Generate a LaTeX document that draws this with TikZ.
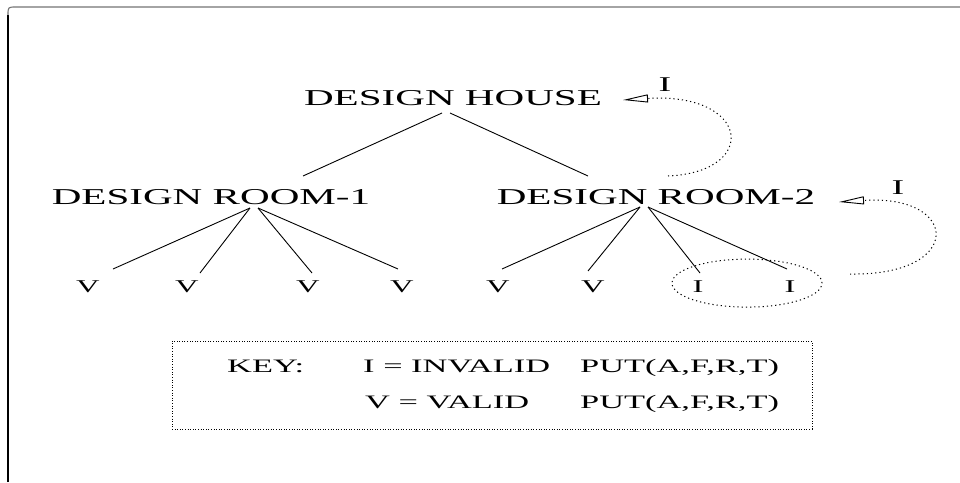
\documentclass[tikz,border=0pt]{standalone}
\usepackage{fontspec}
\setmainfont{Liberation Serif}
\usepackage{graphicx}
\usetikzlibrary{calc,arrows.meta}
\newcommand\wx[1]{\scalebox{1.81}[1]{#1}}
\begin{document}
\begin{tikzpicture}[x=1pt,y=-1pt,
  big/.style={inner sep=0pt, anchor=base, font=\fontsize{22.7}{26}\selectfont},
  leaf/.style={inner sep=0pt, anchor=base, font=\fontsize{18}{21}\selectfont},
  lbl/.style={inner sep=0pt, anchor=base, font=\fontsize{21}{24}\selectfont},
  keytext/.style={inner sep=0pt, anchor=base west, font=\fontsize{19}{22}\selectfont},
  treeline/.style={line width=0.9pt},
  ringline/.style={line width=1pt, dash pattern=on 1.2pt off 3pt},
  cycleline/.style={line width=1pt, dash pattern=on 1.2pt off 3pt, -{Triangle[open,length=25pt,width=8pt,line width=0.9pt]}},
  keybox/.style={draw, line width=0.8pt, dash pattern=on 1pt off 1.6pt, inner sep=0pt},
  ]
\useasboundingbox (0,0) rectangle (960,482);
% frame
\draw[line width=1.1pt] (8,482) -- (8,15);
\draw[line width=1.1pt, black!55] (8,15) .. controls (8,7) .. (16,7) -- (960,7);
% tree nodes
\node[big] (house) at (453,105) {\wx{DESIGN HOUSE}};
\node[big] (r1) at (211,204) {\wx{DESIGN ROOM-1}};
\node[big] (r2) at (656,204) {\wx{DESIGN ROOM-2}};
\node[leaf] (v1) at (88,292) {\wx{V}};
\node[leaf] (v2) at (187,292) {\wx{V}};
\node[leaf] (v3) at (308,292) {\wx{V}};
\node[leaf] (v4) at (402,292) {\wx{V}};
\node[leaf] (v5) at (498,292) {\wx{V}};
\node[leaf] (v6) at (593,292) {\wx{V}};
\node[leaf] (i1) at (698,292) {\wx{I}};
\node[leaf] (i2) at (790,292) {\wx{I}};
\node[lbl] (t1) at (665,91) {\wx{I}};
\node[lbl] (t2) at (898,194) {\wx{I}};
% edges
\draw[treeline] ($(house.base)+(-11,8)$) -- ($(r1.base)+(92,-28)$);
\draw[treeline] ($(house.base)+(-3,8)$) -- ($(r2.base)+(-68,-28)$);
\draw[treeline] ($(r1.base)+(39,4)$) -- ($(v1.base)+(25,-23)$);
\draw[treeline] ($(r1.base)+(39,4)$) -- ($(v2.base)+(13,-19)$);
\draw[treeline] ($(r1.base)+(47,4)$) -- ($(v3.base)+(4,-19)$);
\draw[treeline] ($(r1.base)+(47,4)$) -- ($(v4.base)+(-4,-23)$);
\draw[treeline] ($(r2.base)+(-16,3)$) -- ($(v5.base)+(4,-23)$);
\draw[treeline] ($(r2.base)+(-16,3)$) -- ($(v6.base)+(-5,-21)$);
\draw[treeline] ($(r2.base)+(-8,3)$) -- ($(i1.base)+(2,-19)$);
\draw[treeline] ($(r2.base)+(-8,3)$) -- ($(i2.base)+(-3,-23)$);
% ring round the invalid leaves
\draw[ringline] ($(i1.center)!0.5!(i2.center)+(3,-3)$) ellipse [x radius=75pt, y radius=24pt];
% loops
\draw[cycleline] ($(r2.base)+(12,-28)$) .. controls (760,172) and (750,92) .. ($(house.base)+(170,-5)$);
\draw[cycleline] ($(i2.base)+(60,-18)$) .. controls (965,276) and (960,194) .. ($(r2.base)+(183,-2)$);
% key
\node[keybox, minimum width=640pt, minimum height=88pt] (key) at (492,385) {};
\node[keytext] (k0) at (227,372) {\wx{KEY:}};
\node[keytext] (k1) at (363,372) {\wx{I = INVALID}};
\node[keytext] (k2) at (580,372) {\wx{PUT(A,F,R,T)}};
\node[keytext] (k3) at (365,408) {\wx{V = VALID}};
\node[keytext] (k4) at (580,408) {\wx{PUT(A,F,R,T)}};
\end{tikzpicture}
\end{document}
